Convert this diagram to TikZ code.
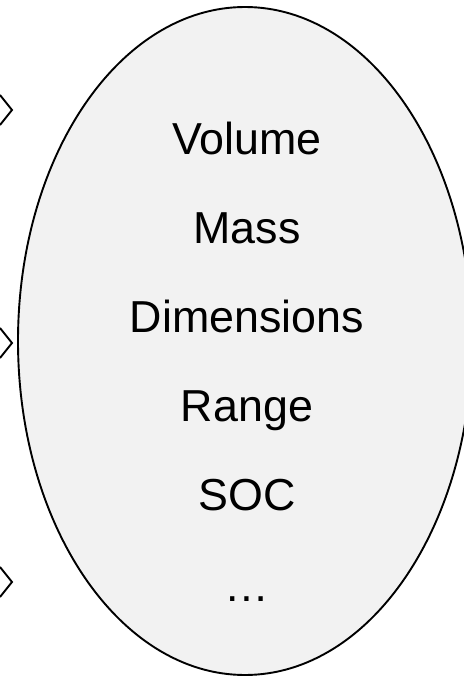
\documentclass[tikz,border=0pt]{standalone}
\usepackage{fontspec}
\setmainfont{Liberation Sans}
\usetikzlibrary{shapes.geometric}
\definecolor{ovalfill}{HTML}{F2F2F2}
\begin{document}
\begin{tikzpicture}[x=1pt,y=-1pt,
  oval/.style={draw=black,line width=1.9pt,fill=ovalfill},
  tip/.style={draw=black,line width=1.9pt,line join=miter},
  item/.style={anchor=base,inner sep=0pt,font=\fontsize{44.8}{50}\selectfont}]
\useasboundingbox (0,0) rectangle (463,677);
% the oval holding the list of quantities
\node[oval,ellipse,minimum width=454pt,minimum height=668pt,inner sep=0pt] (oval) at (245,341) {};
% tips of the three arrows on the left
\coordinate (t1) at (12,110);
\coordinate (t2) at (12,343);
\coordinate (t3) at (12,582);
\foreach \t in {t1,t2,t3}
  \draw[tip] ([shift={(-12,-15)}]\t) -- (\t) -- ([shift={(-12,15)}]\t);
% list entries
\node[item] (volume) at (247,154) {Volume};
\node[item] (mass) at (247,243) {Mass};
\node[item] (dims) at (247,332) {Dimensions};
\node[item] (range) at (247,421) {Range};
\node[item] (soc) at (247,510) {SOC};
\node[item] (more) at (247,601) {…};
\end{tikzpicture}
\end{document}
